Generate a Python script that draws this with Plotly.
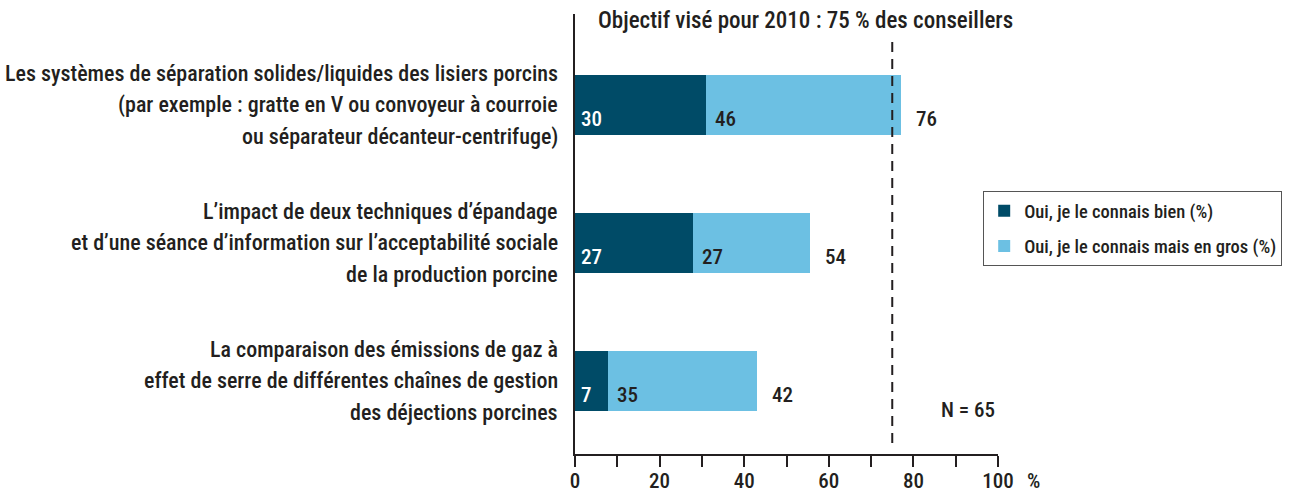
import plotly.graph_objects as go

# ---- data ----
categories = [
    "Les systèmes de séparation solides/liquides des lisiers porcins<br>(par exemple : gratte en V ou convoyeur à courroie<br>ou séparateur décanteur-centrifuge)",
    "L’impact de deux techniques d’épandage<br>et d’une séance d’information sur l’acceptabilité sociale<br>de la production porcine",
    "La comparaison des émissions de gaz à<br>effet de serre de différentes chaînes de gestion<br>des déjections porcines",
]
series_names = ["Oui, je le connais bien (%)", "Oui, je le connais mais en gros (%)"]
bien_values = [31.0, 27.8, 7.8]       # bar lengths
gros_values = [46.0, 27.8, 35.3]
bien_labels = ["30", "27", "7"]        # printed values
gros_labels = ["46", "27", "35"]
total_labels = ["76", "54", "42"]
target_value = 75
target_text = "Objectif visé pour 2010 : 75 % des conseillers"
n_text = "N = 65"
x_ticks = [0, 20, 40, 60, 80, 100]

# ---- style ----
FONT = "Liberation Sans Narrow, Arial Narrow, Roboto Condensed, sans-serif"
TXT = "#231f20"
DARK = "#004b67"
LIGHT = "#6cc0e3"
W = 500

fig = go.Figure()
fig.add_trace(go.Bar(y=categories, x=bien_values, orientation="h", name=series_names[0],
                     marker=dict(color=DARK, line=dict(width=0)), width=0.435,
                     legendgroup="a", hoverinfo="skip"))
fig.add_trace(go.Bar(y=categories, x=gros_values, orientation="h", name=series_names[1],
                     marker=dict(color=LIGHT, line=dict(width=0)), width=0.435,
                     legendgroup="b", hoverinfo="skip"))

ann = []
for i, cat in enumerate(categories):
    # category label lines
    lines = cat.split("<br>")
    mid = (len(lines) - 1) / 2
    for j, ln in enumerate(lines):
        ann.append(dict(x=0, y=cat, xref="x", yref="y", text=ln, showarrow=False,
                        xanchor="right", yanchor="middle", xshift=-15,
                        yshift=(mid - j) * 31.5,
                        font=dict(family=FONT, size=22, color=TXT, weight=W)))
    ann.append(dict(x=0, y=cat, text=bien_labels[i], showarrow=False, xanchor="left",
                    xshift=4, yshift=-14,
                    font=dict(family=FONT, size=21, color="white", weight=W)))
    ann.append(dict(x=bien_values[i], y=cat, text=gros_labels[i], showarrow=False,
                    xanchor="left", xshift=7, yshift=-14,
                    font=dict(family=FONT, size=21, color=TXT, weight=W)))
    ann.append(dict(x=bien_values[i] + gros_values[i], y=cat, text=total_labels[i],
                    showarrow=False, xanchor="left", xshift=13, yshift=-14,
                    font=dict(family=FONT, size=21, color=TXT, weight=W)))

ann.append(dict(x=0.546, y=0.985, xref="paper", yref="paper", text=target_text,
                showarrow=False, xanchor="center", yanchor="middle",
                font=dict(family=FONT, size=23, color=TXT, weight=W)))
ann.append(dict(x=0.93, y=0.1, xref="paper", yref="paper", text=n_text,
                showarrow=False, xanchor="center", yanchor="middle",
                font=dict(family=FONT, size=21, color=TXT, weight=W)))
ann.append(dict(x=100, y=0, xref="x", yref="paper", text="%", showarrow=False,
                xanchor="left", yanchor="middle", xshift=27, yshift=-27,
                font=dict(family=FONT, size=21, color=TXT, weight=W)))

fig.add_shape(type="line", x0=target_value, x1=target_value, xref="x",
              y0=0.025, y1=0.94, yref="paper",
              line=dict(color=TXT, width=2, dash="10px,7px"))

fig.update_layout(
    width=1291, height=493,
    margin=dict(l=575, r=293.3, t=14, b=39, pad=0, autoexpand=False),
    paper_bgcolor="white", plot_bgcolor="white",
    barmode="stack", bargap=0,
    annotations=ann,
    font=dict(family=FONT, color=TXT),
    showlegend=True,
    legend=dict(x=0.965, y=0.597, xanchor="left", yanchor="top",
                bordercolor="#555555", borderwidth=1, bgcolor="white",
                font=dict(family=FONT, size=18.5, color=TXT, weight=W),
                traceorder="grouped", tracegroupgap=8),
    xaxis=dict(range=[0, 100], tickvals=x_ticks, ticks="outside", ticklen=11,
               tickwidth=2, tickcolor=TXT, showline=True, linewidth=2, linecolor=TXT,
               showgrid=False, zeroline=False, automargin=False, ticklabelstandoff=-4,
               tickfont=dict(family=FONT, size=21, color=TXT, weight=W),
               minor=dict(dtick=10, ticks="outside", ticklen=11, tickwidth=2,
                          tickcolor=TXT, showgrid=False)),
    yaxis=dict(type="category", categoryarray=categories, range=[2.53, -0.66],
               showticklabels=False, ticks="", showline=True, linewidth=2,
               linecolor=TXT, showgrid=False, zeroline=False, automargin=False),
)

fig.write_html("out.html", config={"displayModeBar": False},
               post_script="document.body.style.margin='0';document.body.style.overflow='hidden';")
